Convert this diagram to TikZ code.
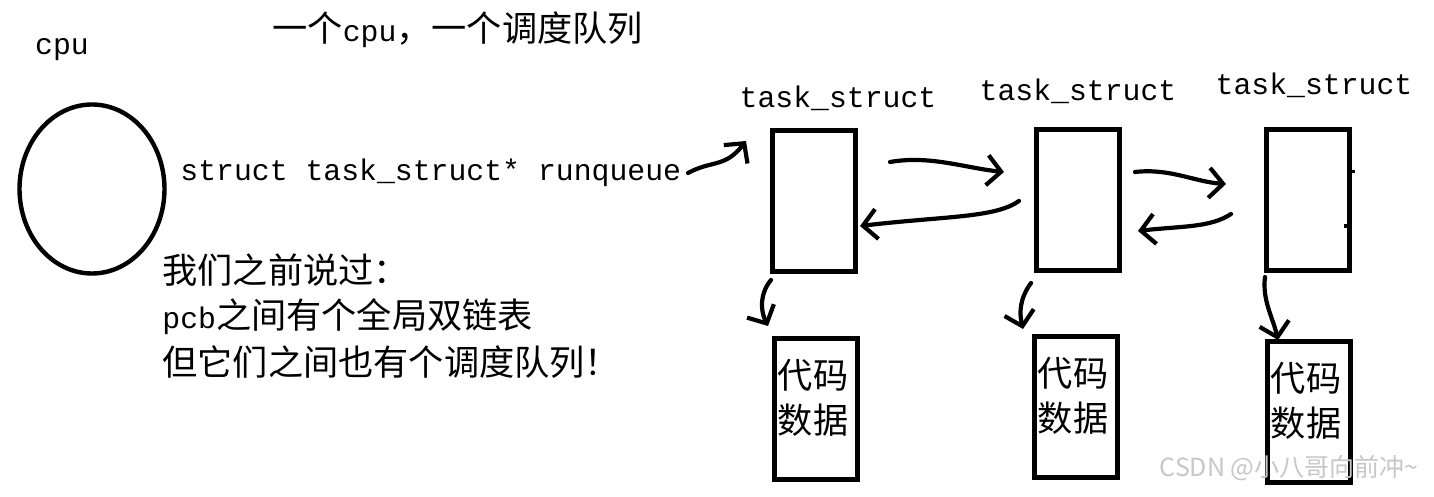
\documentclass[tikz,border=0pt]{standalone}
\usepackage{fontspec}
\setmainfont{Liberation Mono}
\newfontfamily\cjk{Noto Sans CJK SC}
\usetikzlibrary{arrows.meta,shapes.geometric}
\newcommand\zh[1]{{\cjk\fontsize{17.6pt}{20pt}\selectfont #1}}
\begin{document}
\begin{tikzpicture}[x=0.5pt,y=-0.5pt,
  box/.style={draw, line width=2.6pt, minimum width=41.2pt, minimum height=70.2pt, inner sep=0pt},
  lat/.style={font=\fontsize{14.9pt}{18pt}\selectfont, inner sep=0pt},
  zhtxt/.style={font=\cjk\fontsize{17.6pt}{22.5pt}\selectfont, inner sep=0pt, align=center},
  hand/.style={line width=2.1pt, line cap=round, line join=round, -{Straight Barb[length=7pt,width=15pt,line width=2.1pt]}},
]
\useasboundingbox (0,0) rectangle (1434,497);
% cpu
\node[lat] (cpulbl) at (62,50) {cpu};
\node[draw, line width=2.2pt, ellipse, minimum width=72.5pt, minimum height=84.5pt, inner sep=0pt] (cpu) at (92,189) {};
\node[lat, anchor=west] (title) at (272,30) {\zh{一个}cpu\zh{，一个调度队列}};
\node[lat, anchor=west] (rq) at (180,173) {struct task\_struct* runqueue};
\node[lat, anchor=west] (l1) at (162,270) {\zh{我们之前说过：}};
\node[lat, anchor=west] (l2) at (162,317) {pcb\zh{之间有个全局双链表}};
\node[lat, anchor=west] (l3) at (162,362) {\zh{但它们之间也有个调度队列！}};
% task_struct labels
\node[lat] (n1) at (838,98) {task\_struct};
\node[lat] (n2) at (1078,91) {task\_struct};
\node[lat] (n3) at (1314,85) {task\_struct};
% top boxes
\node[box] (t1) at (814,201) {};
\node[box] (t2) at (1078,200) {};
\node[box] (t3) at (1308,200) {};
% bottom boxes
\node[box] (d1) at (816,409) {};
\node[box] (d2) at (1076,407) {};
\node[box] (d3) at (1309,412) {};
\node[zhtxt] (d1t) at (813,398) {代码\\数据};
\node[zhtxt] (d2t) at (1073,396) {代码\\数据};
\node[zhtxt] (d3t) at (1306,401) {代码\\数据};
% coordinates for hand-drawn connectors
\coordinate (rqe) at (688,173);
\coordinate (rqt) at (746,141);
\coordinate (f1s) at (890,162);
\coordinate (f1e) at (1004,172);
\coordinate (b1s) at (1019,201);
\coordinate (b1e) at (860,226);
\coordinate (f2s) at (1135,172);
\coordinate (f2e) at (1226,184);
\coordinate (b2s) at (1231,214);
\coordinate (b2e) at (1138,231);
\coordinate (v1s) at (771,280);
\coordinate (v1e) at (768,326);
\coordinate (v2s) at (1031,283);
\coordinate (v2e) at (1023,329);
\coordinate (v3s) at (1265,277);
\coordinate (v3e) at (1278,340);
\draw[hand] (rqe) .. controls (712,160) and (725,168) .. (rqt);
\draw[hand] (f1s) .. controls (930,155) and (965,168) .. (f1e);
\draw[hand] (b1s) .. controls (995,218) and (945,216) .. (b1e);
\draw[hand] (f2s) .. controls (1170,168) and (1195,182) .. (f2e);
\draw[hand] (b2s) .. controls (1210,228) and (1180,226) .. (b2e);
\draw[hand] (v1s) .. controls (760,293) and (760,310) .. (v1e);
\draw[hand] (v2s) .. controls (1020,298) and (1019,312) .. (v2e);
\draw[hand] (v3s) .. controls (1262,300) and (1273,318) .. (v3e);
% small marks on right of third box
\draw[line width=1.5pt] (t3.east) ++(0,-28) -- ++(3,0);
\draw[line width=2pt] (t3.east) ++(-8,26) -- ++(8,0);
% watermark
\node[font=\cjk\fontsize{12.5pt}{14pt}\selectfont, text=black!22, inner sep=0pt] (wm) at (1289,468) {CSDN @小八哥向前冲\textasciitilde};
\end{tikzpicture}
\end{document}
